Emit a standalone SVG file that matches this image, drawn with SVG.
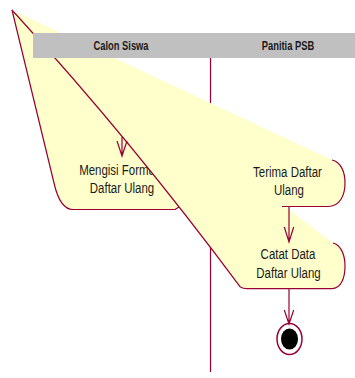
<svg xmlns="http://www.w3.org/2000/svg" width="355" height="378" viewBox="0 0 355 378">
<style>
.fill{fill:#FFFFCC;stroke:none}
.edge{fill:none;stroke:#990033;stroke-width:1.2;stroke-linejoin:round}
.lbl{font-family:"Liberation Sans",Arial,sans-serif;font-size:15.5px;fill:#1a1a1a;text-anchor:middle}
.hdr{font-family:"Liberation Sans",Arial,sans-serif;font-size:12.5px;font-weight:bold;fill:#1a1a1a;text-anchor:middle}
</style>
<rect width="355" height="378" fill="#FFFFFF"/>
<line x1="210.5" y1="58" x2="210.5" y2="372" stroke="#990033" stroke-width="1.2"/>
<g id="mengisi">
<path class="fill" d="M12,10 L54,183 Q60,209.5 73,209.5 L175,209.5 L179.4,206.8 Q99.8,106.2 12,10 Z"/>
<path class="edge" d="M12,10 L54,183 Q60,209.5 73,209.5 L175,209.5 L179.4,206.8"/>
<text class="lbl" transform="matrix(0.74 0 0 1 121.5 0)" x="0" y="175">Mengisi Formulir</text>
<text class="lbl" transform="matrix(0.74 0 0 1 122 0)" x="0" y="193">Daftar Ulang</text>
</g>
<g id="catat">
<path class="fill" d="M12,10 Q134,143.6 240,286.7 Q243,288.7 247,288.7 L332,288.7 C341,288.7 345,278 345,266 C345,255 341,245 333,243 L287,208 L12,10 Z"/>
<path class="edge" d="M12,10 Q134,143.6 240,286.7 Q243,288.7 247,288.7 L332,288.7 C341,288.7 345,278 345,266 C345,255 341,245 333,243"/>
<text class="lbl" transform="matrix(0.74 0 0 1 288 0)" x="0" y="259">Catat Data</text>
<text class="lbl" transform="matrix(0.74 0 0 1 288.5 0)" x="0" y="278">Daftar Ulang</text>
</g>
<g id="terima">
<path class="fill" d="M12,10 L332,160 C341,162 345,172 345,183 C345,195 340,206.5 328,206.5 L282,206.5 L12,10 Z"/>
<path class="edge" d="M332,160 C341,162 345,172 345,183 C345,195 340,206.5 328,206.5 L282,206.5"/>
<text class="lbl" transform="matrix(0.74 0 0 1 287.5 0)" x="0" y="177">Terima Daftar</text>
<text class="lbl" transform="matrix(0.74 0 0 1 289 0)" x="0" y="195.5">Ulang</text>
</g>
<g id="final">
<ellipse cx="289.5" cy="339" rx="12.5" ry="15.5" fill="#FFFFFF" stroke="#990033" stroke-width="1.5"/>
<ellipse cx="289.5" cy="339" rx="8.5" ry="10.5" fill="#000000"/>
</g>
<g id="connectors" fill="none" stroke="#990033" stroke-width="1.2">
<path d="M122,137 L122,156 M117,141 L122,156 L127,141"/>
<path d="M289,206.5 L289,242 M284.3,227 L289,242 L293.7,227"/>
<path d="M289,289 L289,324 M284.3,310 L289,324 L293.7,310"/>
</g>
<g id="header">
<rect x="33" y="33" width="322" height="25" fill="#C0C0C0"/>
<text class="hdr" transform="matrix(0.75 0 0 1 121 0)" x="0" y="50">Calon Siswa</text>
<text class="hdr" transform="matrix(0.75 0 0 1 288 0)" x="0" y="50">Panitia PSB</text>
</g>
</svg>
